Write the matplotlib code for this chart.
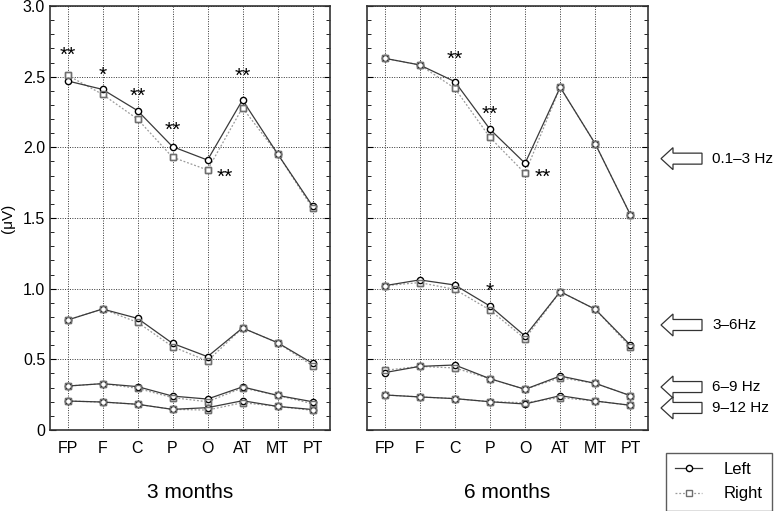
import matplotlib
matplotlib.use('Agg')
import matplotlib.pyplot as plt
from matplotlib.patches import FancyArrow
from matplotlib.ticker import MultipleLocator

plt.rcParams['font.family'] = ['Liberation Sans', 'DejaVu Sans']

# Dados
sites = ['FP', 'F', 'C', 'P', 'O', 'AT', 'MT', 'PT']
y_ticks = [0, 0.5, 1.0, 1.5, 2.0, 2.5, 3.0]
y_tick_labels = ['0', '0.5', '1.0', '1.5', '2.0', '2.5', '3.0']

# 3 meses
m3_left_d1 = [2.47, 2.41, 2.26, 2.005, 1.91, 2.335, 1.955, 1.585]
m3_right_d1 = [2.51, 2.375, 2.20, 1.93, 1.84, 2.28, 1.955, 1.57]
m3_left_d2 = [0.778, 0.856, 0.79, 0.613, 0.519, 0.722, 0.618, 0.472]
m3_right_d2 = [0.778, 0.856, 0.762, 0.59, 0.488, 0.722, 0.618, 0.455]
m3_left_d3 = [0.311, 0.328, 0.307, 0.24, 0.219, 0.305, 0.245, 0.20]
m3_right_d3 = [0.311, 0.328, 0.295, 0.229, 0.20, 0.298, 0.245, 0.186]
m3_left_d4 = [0.205, 0.198, 0.182, 0.146, 0.158, 0.207, 0.167, 0.145]
m3_right_d4 = [0.205, 0.198, 0.182, 0.146, 0.141, 0.193, 0.167, 0.139]

# 6 meses
m6_left_d1 = [2.63, 2.583, 2.465, 2.128, 1.887, 2.425, 2.024, 1.522]
m6_right_d1 = [2.63, 2.583, 2.418, 2.07, 1.816, 2.425, 2.024, 1.522]
m6_left_d2 = [1.021, 1.062, 1.026, 0.877, 0.665, 0.979, 0.854, 0.60]
m6_right_d2 = [1.021, 1.043, 0.995, 0.849, 0.646, 0.979, 0.854, 0.587]
m6_left_d3 = [0.406, 0.45, 0.46, 0.363, 0.288, 0.382, 0.33, 0.243]
m6_right_d3 = [0.422, 0.45, 0.439, 0.363, 0.288, 0.37, 0.33, 0.243]
m6_left_d4 = [0.248, 0.234, 0.222, 0.20, 0.184, 0.243, 0.205, 0.175]
m6_right_d4 = [0.248, 0.234, 0.222, 0.20, 0.193, 0.229, 0.205, 0.175]

# asteriscos: (indice, y, texto)
stars_3m = [(0, 2.65, '**'), (1, 2.51, '*'), (2, 2.36, '**'), (3, 2.12, '**'),
            (4.5, 1.79, '**'), (5, 2.50, '**')]
stars_6m = [(2, 2.62, '**'), (3, 2.23, '**'), (4.5, 1.79, '**'), (3, 0.98, '*')]

bands = ['0.1\u20133 Hz', '3\u20136Hz', '6\u20139 Hz', '9\u201312 Hz']
band_y = [1.92, 0.743, 0.304, 0.156]

fig = plt.figure(figsize=(7.75, 5.11), dpi=100)
W, H = 775, 511
ax1 = fig.add_axes([50 / W, 1 - 430 / H, 280 / W, 424 / H])
ax2 = fig.add_axes([367 / W, 1 - 430 / H, 281 / W, 424 / H])

x = list(range(len(sites)))


def plotar(ax, left_series, right_series, stars, title):
    for i, (l, r) in enumerate(zip(left_series, right_series)):
        ax.plot(x, r, color='#9a9a9a', linestyle=(0, (1.5, 1.5)), linewidth=0.9,
                marker='s', markersize=4.5, markerfacecolor='white',
                markeredgecolor='#6e6e6e', markeredgewidth=1.0, zorder=3,
                label='Right' if i == 0 else None)
        ax.plot(x, l, color='#3a3a3a', linestyle='-', linewidth=0.9,
                marker='o', markersize=4.5, markerfacecolor='white',
                markeredgecolor='black', markeredgewidth=1.0, zorder=4,
                label='Left' if i == 0 else None)
        # redesenhar quadrados por cima
        ax.plot(x, r, linestyle='none', marker='s', markersize=4.5,
                markerfacecolor='none', markeredgecolor='#6e6e6e',
                markeredgewidth=1.0, zorder=5)
    for xi, yi, s in stars:
        ax.text(xi, yi, s, ha='center', va='center', fontsize=15, zorder=6)
    ax.set_xlim(-0.5, 7.5)
    ax.set_ylim(0, 3.0)
    ax.set_xticks(x)
    ax.set_xticklabels(sites, fontsize=11.5)
    ax.set_yticks(y_ticks)
    ax.yaxis.set_minor_locator(MultipleLocator(0.1))
    ax.grid(True, which='major', color='#333333', linestyle=(0, (1, 1.5)), linewidth=0.7)
    ax.tick_params(axis='x', length=0, pad=8)
    ax.tick_params(axis='y', which='both', direction='in', left=True, right=True)
    ax.tick_params(axis='y', which='major', length=4)
    ax.tick_params(axis='y', which='minor', length=3)
    for sp in ax.spines.values():
        sp.set_linewidth(1.2)
        sp.set_color('#333333')
    ax.set_xlabel(title, fontsize=15, labelpad=19)


plotar(ax1, [m3_left_d1, m3_left_d2, m3_left_d3, m3_left_d4],
       [m3_right_d1, m3_right_d2, m3_right_d3, m3_right_d4], stars_3m, '3 months')
plotar(ax2, [m6_left_d1, m6_left_d2, m6_left_d3, m6_left_d4],
       [m6_right_d1, m6_right_d2, m6_right_d3, m6_right_d4], stars_6m, '6 months')

ax1.set_yticklabels(y_tick_labels, fontsize=11.5)
ax1.set_ylabel('(\u03bcV)', fontsize=11, labelpad=6)
ax2.set_yticklabels([])

# setas das bandas
for nome, yv in zip(bands, band_y):
    yf = ax2.transData.transform((0, yv))[1] / H
    seta = FancyArrow(702 / W, yf, -41 / W, 0, width=11 / H, head_width=22 / H,
                      head_length=12 / W, length_includes_head=True,
                      transform=fig.transFigure, facecolor='white',
                      edgecolor='#333333', linewidth=0.9)
    fig.patches.append(seta)
    fig.text(712 / W, yf, nome, ha='left', va='center', fontsize=11)

handles, labels = ax1.get_legend_handles_labels()
ordem = [labels.index('Left'), labels.index('Right')]
leg = fig.legend([handles[i] for i in ordem], [labels[i] for i in ordem],
                 loc='upper left', bbox_to_anchor=(666 / W, 1 - 453 / H),
                 fontsize=12, frameon=True, fancybox=False, edgecolor='#333333',
                 handlelength=1.6, handletextpad=1.3, borderpad=0.55,
                 labelspacing=0.55, borderaxespad=0)
leg.get_frame().set_linewidth(1.0)

fig.savefig('out.png', dpi=100)
